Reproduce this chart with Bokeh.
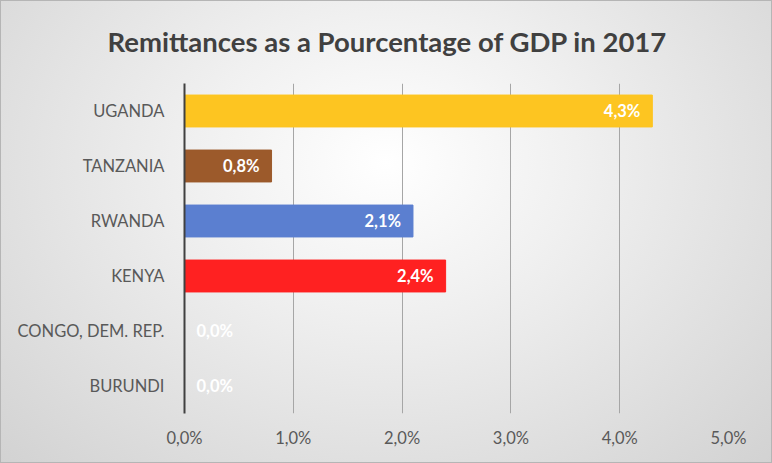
from bokeh.plotting import figure
from bokeh.models import ColumnDataSource, FactorRange, FixedTicker, Range1d
from bokeh.core.properties import value
from bokeh.embed import file_html
from bokeh.resources import INLINE

# ---- data ----
countries = ["UGANDA", "TANZANIA", "RWANDA", "KENYA", "CONGO, DEM. REP.", "BURUNDI"]
remit_pct = [4.3, 0.8, 2.1, 2.4, 0.0, 0.0]
bar_colors = ["#FDC521", "#9C5A2B", "#5B7FD0", "#FF2121", "#A5A5A5", "#4472C4"]
x_ticks = [0, 1, 2, 3, 4, 5]
x_tick_labels = ["0,0%", "1,0%", "2,0%", "3,0%", "4,0%", "5,0%"]
title_text = "Remittances as a Pourcentage of GDP in 2017"

labels = [f"{v:.1f}".replace(".", ",") + "%" for v in remit_pct]
aligns = ["right" if v > 0 else "left" for v in remit_pct]
offsets = [-12 if v > 0 else 12 for v in remit_pct]

src = ColumnDataSource(dict(country=countries, val=remit_pct, color=bar_colors,
                            label=labels, align=aligns, off=offsets))

p = figure(width=772, height=463, output_backend="svg", toolbar_location=None,
           y_range=FactorRange(factors=list(reversed(countries))),
           x_range=Range1d(0, 5),
           min_border_left=184, min_border_right=44, min_border_bottom=50, min_border_top=82)

p.title.text = title_text
p.title.align = "left"
p.title.offset = -77
p.title.vertical_align = "top"
p.title.text_font = "Lato"
p.title.text_font_style = "bold"
p.title.text_font_size = "27.5px"
p.title.text_color = "#404040"
p.title.standoff = 48

p.hbar(y="country", right="val", left=0, height=0.58, color="color", source=src)
p.text(x="val", y="country", text="label", text_align="align", x_offset="off",
       text_baseline="middle", text_color="white", text_font_style="bold",
       text_font=value("Lato"), text_font_size="16.5px", source=src)

# background: gradient via CSS, transparent canvas
p.background_fill_alpha = 0
p.border_fill_alpha = 0
p.outline_line_color = None
p.styles = {"background": "radial-gradient(ellipse at 50% 35%, #ffffff 0%, #f0f0f0 35%, #d2d2d2 100%)",
            "box-shadow": "inset 0 0 0 1px #b5b5b5"}

# x axis
p.xaxis.ticker = FixedTicker(ticks=x_ticks)
p.xaxis.major_label_overrides = {t: l for t, l in zip(x_ticks, x_tick_labels)}
p.xaxis.axis_line_color = None
p.xaxis.major_tick_line_color = None
p.xaxis.minor_tick_line_color = None
p.xaxis.major_label_text_color = "#595959"
p.xaxis.major_label_text_font = "Lato"
p.xaxis.major_label_text_font_size = "16.5px"
p.xaxis.major_label_standoff = 8

# y axis
p.yaxis.axis_line_color = "#404040"
p.yaxis.axis_line_width = 2
p.yaxis.major_tick_line_color = None
p.yaxis.minor_tick_line_color = None
p.yaxis.major_label_text_color = "#595959"
p.yaxis.major_label_text_font = "Lato"
p.yaxis.major_label_text_font_size = "16.5px"
p.yaxis.major_label_standoff = 14

p.xgrid.ticker = FixedTicker(ticks=x_ticks[1:])
p.xgrid.grid_line_color = "#a6a6a6"
p.xgrid.grid_line_width = 1
p.ygrid.grid_line_color = None

open("out.html", "w").write(file_html(p, INLINE))
